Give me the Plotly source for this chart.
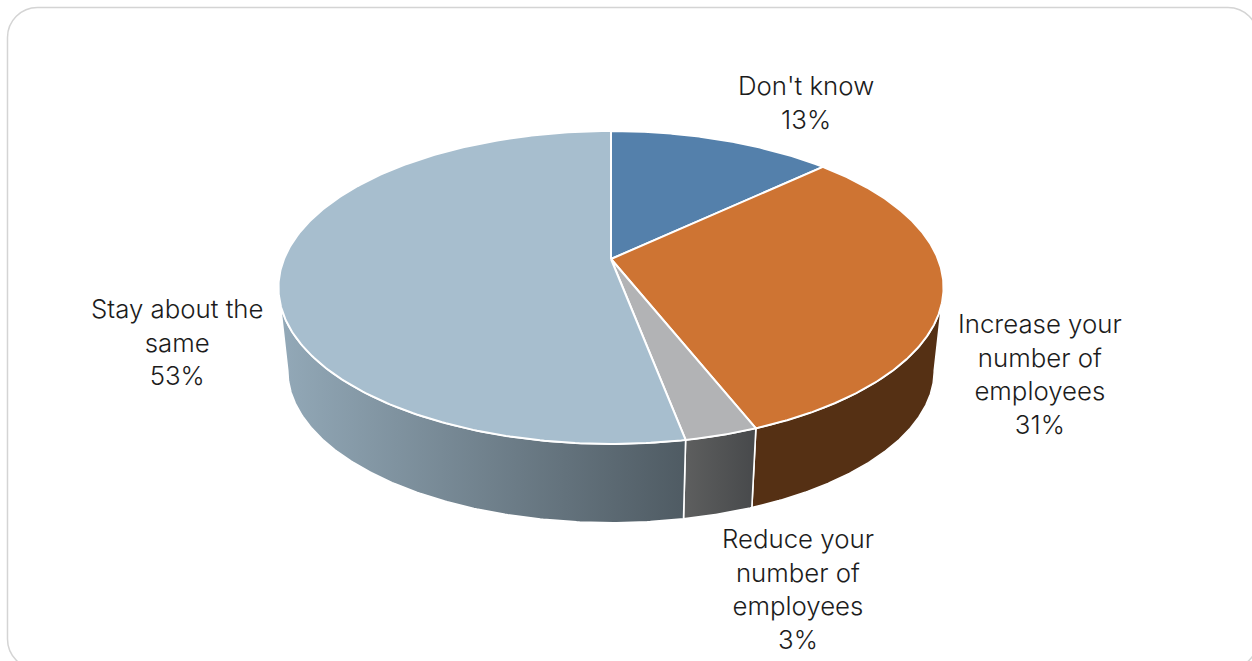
import numpy as np
import plotly.graph_objects as go

# Survey answers, clockwise from twelve o'clock
categories = ["Don't know", "Increase your<br>number of<br>employees",
              "Reduce your<br>number of<br>employees", "Stay about the<br>same"]
shares = [13, 31, 3, 53]
top_colors = ["#5480ab", "#ce7433", "#b2b3b5", "#a7bece"]
wall_fills = [None, ["#553014", "#553014"], ["#5e5f5f", "#47494b"], ["#93a9b8", "#4f5b63"]]
label_xy = [(806, 102), (1040, 374), (798, 589), (177, 342)]

# Perspective of the disc on the page
CX, CY = 611, 259
RX, RY, TILT = 327, 151.3, 0.182
BASE_SCALE, BASE_DROP = 0.972, 84


def project(theta, base=False):
    """Page position of the rim at angle theta (radians clockwise from the far point)."""
    x, y = np.sin(theta), np.cos(theta)
    w = 1 + TILT * y
    s, d = (BASE_SCALE, BASE_DROP) if base else (1, 0)
    return CX + s * RX * x / w, CY - s * RY * y / w + d


fig = go.Figure()

edges = np.cumsum([0] + shares) / sum(shares) * 2 * np.pi
wall_from, wall_to = np.arccos(-TILT), 2 * np.pi - np.arccos(-TILT)

# Side walls of the front half
for i, fill in enumerate(wall_fills):
    a, b = max(edges[i], wall_from), min(edges[i + 1], wall_to)
    if fill is None or a >= b:
        continue
    t = np.linspace(a, b, 200)
    tx, ty = project(t)
    bx, by = project(t[::-1], base=True)
    fig.add_trace(go.Scatter(
        x=np.r_[tx, bx, tx[0]], y=np.r_[ty, by, ty[0]], mode="lines", fill="toself",
        line=dict(color="#ffffff", width=1.6),
        fillgradient=dict(type="horizontal", colorscale=[[0, fill[0]], [1, fill[1]]]),
        hoverinfo="skip", showlegend=False))

# Top face
for i, color in enumerate(top_colors):
    t = np.linspace(edges[i], edges[i + 1], 300)
    rx, ry = project(t)
    fig.add_trace(go.Scatter(
        x=np.r_[CX, rx, CX], y=np.r_[CY, ry, CY], mode="lines", fill="toself",
        fillcolor=color, line=dict(color="#ffffff", width=2),
        hoverinfo="skip", showlegend=False))

for name, share, (lx, ly) in zip(categories, shares, label_xy):
    fig.add_annotation(x=lx, y=ly, text=f"{name}<br>{share}%", showarrow=False,
                       xanchor="center", yanchor="middle", align="center",
                       font=dict(family="Inter", weight=300, size=25.8, color="#1c1c1c"))

# Rounded card behind the chart; its right and bottom edges run off the page
L, T, R, B, C = 7.5, 7.5, 1258, 669, 30
K = C * 0.448
fig.add_shape(type="path", layer="below", line=dict(color="#d4d4d4", width=1.5), fillcolor="#ffffff",
              path=f"M {L+C} {T} L {R-C} {T} C {R-K} {T} {R} {T+K} {R} {T+C} L {R} {B-C} "
                   f"C {R} {B-K} {R-K} {B} {R-C} {B} L {L+C} {B} C {L+K} {B} {L} {B-K} {L} {B-C} "
                   f"L {L} {T+C} C {L} {T+K} {L+K} {T} {L+C} {T} Z")

fig.update_layout(
    width=1252, height=661, margin=dict(l=0, r=0, t=0, b=0),
    paper_bgcolor="#ffffff", plot_bgcolor="#ffffff", showlegend=False,
    xaxis=dict(range=[0, 1252], visible=False, fixedrange=True),
    yaxis=dict(range=[661, 0], visible=False, fixedrange=True),
)
fig.write_html("out.html", config={"displayModeBar": False})
